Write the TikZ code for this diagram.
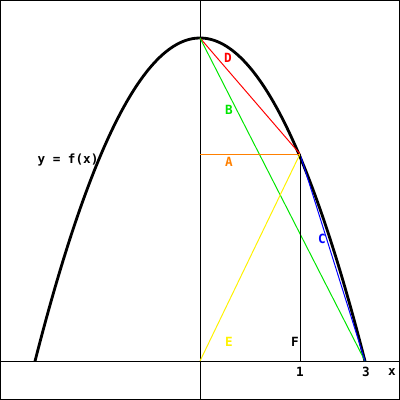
\documentclass[tikz,border=0pt]{standalone}
\usepackage{fontspec}
\newfontfamily\monofont{DejaVu Sans Mono}
\begin{document}
\begin{tikzpicture}[x=0.025cm, y=-0.025cm, line width=0.7pt,
  lbl/.style={font=\monofont\bfseries\fontsize{9}{10}\selectfont, inner sep=0pt}]
\useasboundingbox (0,0) rectangle (400,400);
\draw[black] (0.5,0.5) rectangle (399.5,399.5);

  % Draw axes
  \draw (0,361) -- (400,361);
  \draw (200,0) -- (200,400);

  % Points
  \coordinate (O) at (200,361);
  \coordinate (top) at (200,38);
  \coordinate (P) at (300,154);
  \coordinate (Q) at (365,361);
  \coordinate (foot) at (300,361);
  \coordinate (mid) at (200,154);

  % Draw the curve y = f(x)
  \draw[line width=2pt] plot[domain=35:365, samples=120]
    (\x, {38+0.011864*(\x-200)*(\x-200)});

  % Draw chords
  \draw[red] (top) -- (P);
  \draw[green!90!black] (top) -- (Q);
  \draw[orange] (mid) -- (P);
  \draw[blue] (P) -- (Q);
  \draw[yellow] (O) -- (P);
  \draw (P) -- (foot);

  % Labels
  \node[lbl, red] (labD) at (228,58) {D};
  \node[lbl, green!90!black] (labB) at (229,110) {B};
  \node[lbl, orange] (labA) at (229,162) {A};
  \node[lbl, blue] (labC) at (322,239) {C};
  \node[lbl, yellow] (labE) at (229,342) {E};
  \node[lbl] (labF) at (295,342) {F};
  \node[lbl] (labf) at (68,160) {y = f(x)};
  \node[lbl] (one) at (300,372) {1};
  \node[lbl] (three) at (366,372) {3};
  \node[lbl] (labx) at (392,372) {x};
\end{tikzpicture}
\end{document}
